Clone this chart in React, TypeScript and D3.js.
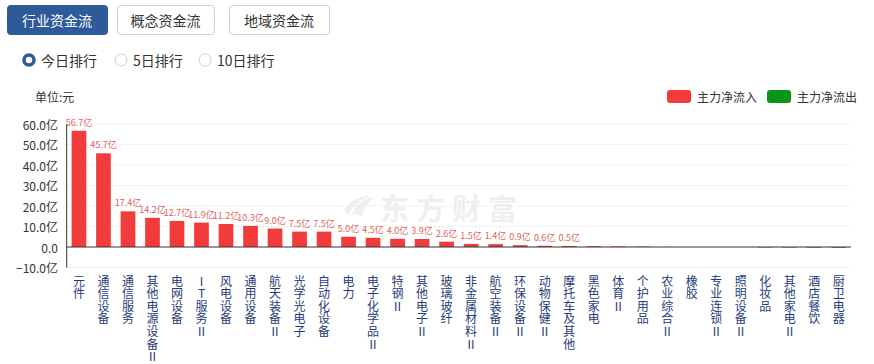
import React from "react";
import * as d3 from "d3";

const categories = ["元件","通信设备","通信服务","其他电源设备Ⅱ","电网设备","IT服务Ⅱ","风电设备","通用设备","航天装备Ⅱ","光学光电子","自动化设备","电力","电子化学品Ⅱ","特钢Ⅱ","其他电子Ⅱ","玻璃玻纤","非金属材料Ⅱ","航空装备Ⅱ","环保设备Ⅱ","动物保健Ⅱ","摩托车及其他","黑色家电","体育Ⅱ","个护用品","农业综合Ⅱ","橡胶","专业连锁Ⅱ","照明设备Ⅱ","化妆品","其他家电Ⅱ","酒店餐饮","厨卫电器"];
const values = [56.7,45.7,17.4,14.2,12.7,11.9,11.2,10.3,9.0,7.5,7.5,5.0,4.5,4.0,3.9,2.6,1.5,1.4,0.9,0.6,0.5,0.4,0.3,0.2,0.04,0.03,0.02,0.01,-0.2,-0.25,-0.3,-0.35];
const yTicks = [60,50,40,30,20,10,0,-10];
const tabs = ["行业资金流","概念资金流","地域资金流"];
const radios = ["今日排行","5日排行","10日排行"];
const legendItems = ["主力净流入","主力净流出"];

const FONT = "'Noto Sans CJK SC', 'Noto Sans', sans-serif";
const RED = "#f23c3c";
const GREEN = "#0a9418";
const BLUE = "#2d5a99";

export default function App() {
  const left = 66.7, right = 851;
  const x = d3.scaleBand<string>().domain(categories).range([left, right]).paddingInner(0.4).paddingOuter(0.2);
  const y = d3.scaleLinear().domain([-10, 60]).range([267.5, 124]);
  const fmt = (v: number) => (v === 0 ? "0.0" : d3.format(".1f")(v) + "亿");

  const tabX = [7, 117, 229];
  const tabW = [100, 97, 100];
  const radioX = [29, 121, 205];

  return (
    <svg width={874} height={364} style={{ position: "absolute", left: 0, top: 0, background: "#fff" }} fontFamily={FONT}>
      {/* tabs */}
      {tabs.map((t, i) => (
        <g key={t}>
          <rect x={tabX[i] + 0.5} y={5.5} width={tabW[i]} height={29} rx={3}
            fill={i === 0 ? BLUE : "#fff"} stroke={i === 0 ? BLUE : "#cfcfcf"} />
          <text x={tabX[i] + tabW[i] / 2} y={20} fontSize={14} textAnchor="middle" dominantBaseline="central"
            fill={i === 0 ? "#fff" : "#333"}>{t}</text>
        </g>
      ))}
      {/* radios */}
      {radios.map((r, i) => (
        <g key={r}>
          {i === 0 ? (
            <circle cx={radioX[i]} cy={60} r={5} fill="#fff" stroke={BLUE} strokeWidth={3.5} />
          ) : (
            <circle cx={radioX[i]} cy={60} r={6} fill="#fff" stroke="#d0d0d0" strokeWidth={1} />
          )}
          <text x={radioX[i] + 12} y={60} fontSize={14} dominantBaseline="central" fill="#333">{r}</text>
        </g>
      ))}
      {/* unit */}
      <text x={35} y={96} fontSize={12} dominantBaseline="central" fill="#333">单位:元</text>
      {/* legend */}
      {legendItems.map((l, i) => (
        <g key={l}>
          <rect x={667 + i * 100} y={90} width={24} height={13} rx={3} fill={i === 0 ? RED : GREEN} />
          <text x={697 + i * 100} y={96.5} fontSize={12} dominantBaseline="central" fill="#333">{l}</text>
        </g>
      ))}
      {/* watermark */}
      <g>
        <path d="M352,214 C356,204 364,198 374,197 C368,203 364,208 362,216 Z M344,210 C350,200 360,196 370,196 C360,200 352,206 348,216 Z" fill="#efefef" />
        <text x={380} y={207} fontSize={29} fontWeight="bold" dominantBaseline="central" fill="#efefef" letterSpacing={7}>东方财富</text>
      </g>
      {/* grid */}
      {yTicks.map((t) => (
        <g key={t}>
          {t !== 0 && (
            <line x1={left} x2={right} y1={y(t)} y2={y(t)} stroke="#e6e6e6" strokeDasharray="2,2" />
          )}
          <text x={58} y={y(t)} fontSize={12} textAnchor="end" dominantBaseline="central" fill="#333">{fmt(t)}</text>
        </g>
      ))}
      {/* bars */}
      {categories.map((c, i) => {
        const v = values[i];
        const y0 = y(0), y1 = y(v);
        return (
          <g key={c}>
            <rect x={x(c)} width={x.bandwidth()} y={Math.min(y0, y1)} height={Math.abs(y1 - y0)} fill={v >= 0 ? RED : GREEN} />
            {v >= 0.5 && (
              <text x={(x(c) as number) + x.bandwidth() / 2} y={y1 - 5} fontSize={9} textAnchor="middle" fill="#e2615c">{d3.format(".1f")(v) + "亿"}</text>
            )}
          </g>
        );
      })}
      {/* axes */}
      <line x1={left} x2={right} y1={y(0)} y2={y(0)} stroke="#333" strokeWidth={1.2} />
      <line x1={left} x2={left} y1={y(60)} y2={y(-10)} stroke="#333" strokeWidth={1} />
      {/* x labels, one character per line */}
      {categories.map((c) => (
        <g key={"l" + c}>
          {Array.from(c).map((ch, j) => (
            <text key={j} x={(x(c) as number) + x.bandwidth() / 2} y={280 + j * 12.6} fontSize={12} textAnchor="middle"
              dominantBaseline="central" fill="#1f3b78">{ch}</text>
          ))}
        </g>
      ))}
    </svg>
  );
}
